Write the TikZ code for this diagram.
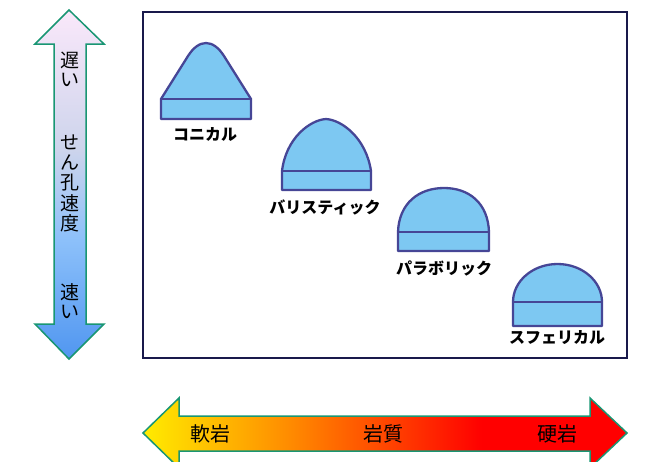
\documentclass[tikz,border=0pt]{standalone}
\usepackage{fontspec}
\newfontfamily\jp{Noto Sans CJK JP}
\definecolor{bitline}{RGB}{70,70,150}
\definecolor{bitfill}{RGB}{125,200,242}
\definecolor{arrline}{RGB}{25,150,115}
\definecolor{boxline}{RGB}{25,25,75}
\definecolor{cpink}{RGB}{250,232,250}
\definecolor{clav}{RGB}{205,212,236}
\definecolor{clblue}{RGB}{140,192,250}
\definecolor{cblue}{RGB}{80,150,240}
\definecolor{cyel}{RGB}{255,236,0}
\definecolor{corg}{RGB}{255,140,0}
\definecolor{cred}{RGB}{255,0,0}
\pgfdeclareverticalshading{speedshade}{100bp}{color(0bp)=(cblue); color(25bp)=(cblue); color(42bp)=(clblue); color(55bp)=(clav); color(75bp)=(cpink); color(100bp)=(cpink)}
\pgfdeclarehorizontalshading{rockshade}{100bp}{color(0bp)=(cyel); color(25bp)=(cyel); color(40bp)=(corg); color(60bp)=(cred); color(100bp)=(cred)}
\begin{document}
\begin{tikzpicture}[x=1pt,y=-1pt,
  bit/.style={draw=bitline,fill=bitfill,line width=2.3pt,line join=round},
  bitlabel/.style={font=\jp\bfseries\fontsize{16}{18}\selectfont,text=black,inner sep=0pt},
  arrtext/.style={font=\jp\fontsize{20}{22}\selectfont,text=black,inner sep=0pt},
  vtext/.style={font=\jp\fontsize{19}{20}\selectfont,text=black,inner sep=0pt},
  bigarrow/.style={draw=arrline,line width=1.5pt,line join=miter}]
\useasboundingbox (0,0) rectangle (648,461);
\clip (0,0) rectangle (648,461);
% vertical arrow
\path[bigarrow,shading=speedshade] (69,10) -- (104,44) -- (86,44) -- (86,324) -- (104,324) -- (69,359) -- (35,324) -- (54,324) -- (54,44) -- (35,44) -- cycle;
\node[vtext] (v1) at (70,60) {遅};
\node[vtext] (v2) at (70,80) {い};
\node[vtext] (v3) at (70,142) {せ};
\node[vtext] (v4) at (70,162) {ん};
\node[vtext] (v5) at (70,183) {孔};
\node[vtext] (v6) at (70,203) {速};
\node[vtext] (v7) at (70,223) {度};
\node[vtext] (v8) at (70,292) {速};
\node[vtext] (v9) at (70,312) {い};
% box
\node[draw=boxline,line width=2pt,minimum width=484pt,minimum height=346pt,inner sep=0pt] (frame) at (385,185) {};
% conical
\path[bit] (161,119) -- (161,99) -- (188,56) .. controls (199,38.7) and (213,38.7) .. (224,56) -- (251,99) -- (251,119) -- cycle;
\draw[bit,fill=none] (161,99) -- (251,99);
\node[bitlabel] (conical) at (205,134) {コニカル};
% ballistic
\path[bit] (282,190) -- (282,171) .. controls (286,138) and (310,120) .. (326,119) .. controls (342,120) and (366,138) .. (371,171) -- (371,190) -- cycle;
\draw[bit,fill=none] (282,171) -- (371,171);
\node[bitlabel] (ballistic) at (325,207) {バリスティック};
% parabolic
\path[bit] (398,251) -- (398,232) .. controls (399,203) and (419,188) .. (444,188) .. controls (469,188) and (488,203) .. (489,232) -- (489,251) -- cycle;
\draw[bit,fill=none] (398,232) -- (489,232);
\node[bitlabel] (parabolic) at (444,268) {パラボリック};
% spherical
\path[bit] (513,326) -- (513,302) arc[start angle=180,end angle=360,x radius=44.5pt,y radius=-38pt] -- (602,326) -- cycle;
\draw[bit,fill=none] (513,302) -- (602,302);
\node[bitlabel] (spherical) at (557,338) {スフェリカル};
% horizontal arrow
\path[bigarrow,shading=rockshade] (143,433) -- (179,398) -- (179,416) -- (590,416) -- (590,398) -- (627,433) -- (590,468) -- (590,451) -- (179,451) -- (179,468) -- cycle;
\node[arrtext] (soft) at (210,434) {軟岩};
\node[arrtext] (rock) at (383,434) {岩質};
\node[arrtext] (hard) at (557,434) {硬岩};
\end{tikzpicture}
\end{document}
